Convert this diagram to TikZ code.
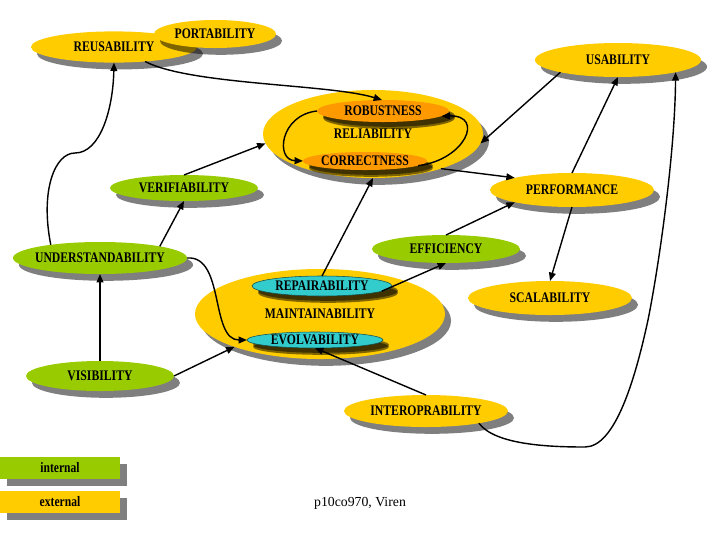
\documentclass[tikz,border=0pt]{standalone}
\usepackage{fontspec}
\setmainfont{Liberation Serif}
\newfontfamily\qualityfont[FakeStretch=0.8]{Liberation Serif}
\usepackage{tikz}
\usetikzlibrary{shapes.geometric, arrows.meta, shadows}
\definecolor{qyellow}{RGB}{255,204,0}
\definecolor{qgreen}{RGB}{153,204,0}
\definecolor{qorange}{RGB}{255,153,0}
\definecolor{qcyan}{RGB}{51,204,204}
\definecolor{qteal}{RGB}{20,80,80}

\begin{document}
\begin{tikzpicture}[
  x=0.025cm, y=-0.025cm,
  quality/.style={ellipse, inner xsep=-1cm, inner ysep=0pt, outer sep=0pt,
                  font=\qualityfont\fontsize{10.4}{12}\selectfont\bfseries,
                  drop shadow={shadow xshift=0.15cm, shadow yshift=-0.17cm,
                               fill=black, opacity=0.5}},
  extq/.style={quality, fill=qyellow},
  intq/.style={quality, fill=qgreen},
  subext/.style={quality, fill=qorange,
                 drop shadow={shadow xshift=0.15cm, shadow yshift=-0.12cm,
                              fill=black, opacity=0.5}},
  subint/.style={quality, fill=qcyan, draw=qteal, line width=0.4pt,
                 drop shadow={shadow xshift=0.15cm, shadow yshift=-0.12cm,
                              fill=black, opacity=0.5}},
  legendbox/.style={rectangle, minimum width=3cm, minimum height=0.55cm, inner sep=0pt,
                    font=\qualityfont\fontsize{10.3}{12}\selectfont\bfseries,
                    drop shadow={shadow xshift=0.17cm, shadow yshift=-0.18cm,
                                 fill=black, opacity=0.5}},
  arrow/.style={-{Triangle[length=2.1mm, width=1.7mm]}, line width=1pt}
]
  \useasboundingbox (0,0) rectangle (720,540);

  \node[extq, minimum width=4.15cm, minimum height=0.78cm] (reuse) at (114,47) {REUSABILITY};
  \node[extq, minimum width=3.05cm, minimum height=0.7cm] (port) at (215,34) {PORTABILITY};
  \node[extq, minimum width=4.15cm, minimum height=0.85cm] (usab) at (618,60) {USABILITY};

  \node[extq, minimum width=5.5cm, minimum height=2.2cm] (relia) at (373,134) {RELIABILITY};
  \node[subext, minimum width=3.3cm, minimum height=0.55cm] (robust) at (383,111) {ROBUSTNESS};
  \node[subext, minimum width=3.1cm, minimum height=0.45cm] (correct) at (365,161) {CORRECTNESS};

  \node[intq, minimum width=3.7cm, minimum height=0.65cm] (verif) at (184,188) {VERIFIABILITY};
  \node[extq, minimum width=4.1cm, minimum height=0.85cm] (perf) at (572,190) {PERFORMANCE};
  \node[intq, minimum width=4.35cm, minimum height=0.8cm] (under) at (100,258) {UNDERSTANDABILITY};
  \node[intq, minimum width=3.7cm, minimum height=0.7cm] (effic) at (446,249) {EFFICIENCY};
  \node[extq, minimum width=4.1cm, minimum height=0.85cm] (scal) at (550,298) {SCALABILITY};

  \node[extq, minimum width=6.25cm, minimum height=2.25cm] (maint) at (320,314) {MAINTAINABILITY};
  \node[subint, minimum width=3.5cm, minimum height=0.5cm] (repair) at (322,286) {REPAIRABILITY};
  \node[subint, minimum width=3.4cm, minimum height=0.4cm] (evolv) at (315,340) {EVOLVABILITY};

  \node[intq, minimum width=3.7cm, minimum height=0.75cm] (visib) at (100,376) {VISIBILITY};
  \node[extq, minimum width=4.1cm, minimum height=0.8cm] (interop) at (426,411) {INTEROPRABILITY};

  % Legend
  \node[legendbox, fill=qgreen] (lint) at (60,468) {internal};
  \node[legendbox, fill=qyellow] (lext) at (60,502) {external};
  \node[font=\fontsize{9.8}{12}\selectfont] (credit) at (360,503) {p10co970, Viren};

  \draw[arrow] (reuse.-25) .. controls (190,85) and (330,84) .. (robust.95);
  \draw[arrow] (under.165) .. controls (40,190) and (55,153) .. (75,153)
                           .. controls (100,153) and (113,110) .. (reuse.-90);
  \draw[arrow] (usab.-168) -- (relia.-5);
  \draw[arrow] (perf.90) -- (usab.-90);
  \draw[arrow] (interop.-13) .. controls (495,445) and (550,447) .. (585,447)
                             .. controls (615,447) and (635,380) .. (648,320)
                             .. controls (660,260) and (675,150) .. (usab.-12);
  \draw[arrow] (robust.180) .. controls (280,115) and (275,160) .. (correct.180);
  \draw[arrow] (correct.-5) .. controls (465,160) and (485,115) .. (robust.-5);
  \draw[arrow] (relia.-27) -- (perf.168);
  \draw[arrow] (effic.90) -- (perf.192);
  \draw[arrow] (perf.-90) -- (scal.90);
  \draw[arrow] (repair.-5) -- (effic.-90);
  \draw[arrow] (repair.90) -- (relia.-90);
  \draw[arrow] (verif.90) -- (relia.185);
  \draw[arrow] (under.11) -- (verif.-90);
  \draw[arrow] (under.0) .. controls (225,255) and (210,340) .. (evolv.180);
  \draw[arrow] (visib.90) -- (under.-90);
  \draw[arrow] (visib.0) -- (maint.201);
  \draw[arrow] (interop.90) -- (evolv.-90);
\end{tikzpicture}
\end{document}
